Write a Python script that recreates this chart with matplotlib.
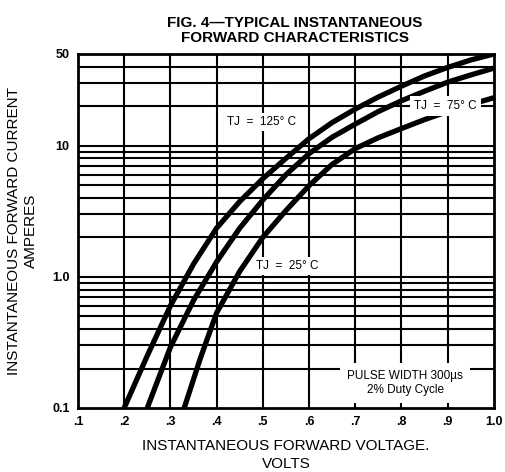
import numpy as np
import matplotlib.pyplot as plt

# forward voltage (V) vs current (A)
v_125 = [0.20, 0.25, 0.30, 0.35, 0.40, 0.45, 0.50, 0.55, 0.60, 0.65, 0.70, 0.75, 0.80, 0.85, 0.90, 0.95, 1.00]
i_125 = [0.10, 0.25, 0.60, 1.25, 2.35, 3.75, 5.6, 8.0, 11.3, 15.0, 19.0, 23.5, 28.4, 34.0, 39.5, 45.0, 50.0]

v_75 = [0.25, 0.30, 0.35, 0.40, 0.45, 0.50, 0.55, 0.60, 0.65, 0.70, 0.75, 0.80, 0.85, 0.90, 0.95, 1.00]
i_75 = [0.10, 0.29, 0.66, 1.30, 2.35, 3.85, 6.0, 8.7, 11.6, 14.6, 18.2, 22.0, 26.0, 30.5, 34.6, 39.0]

v_25 = [0.33, 0.365, 0.40, 0.45, 0.50, 0.55, 0.60, 0.65, 0.70, 0.75, 0.80, 0.85, 0.90, 0.95, 1.00]
i_25 = [0.10, 0.24, 0.53, 1.10, 2.0, 3.2, 4.95, 7.2, 9.5, 11.5, 13.5, 15.8, 18.2, 20.6, 23.2]

x_ticks = [0.1, 0.2, 0.3, 0.4, 0.5, 0.6, 0.7, 0.8, 0.9, 1.0]
x_labels = ['.1', '.2', '.3', '.4', '.5', '.6', '.7', '.8', '.9', '1.0']
y_ticks = [0.1, 1.0, 10, 50]
y_labels = ['0.1', '1.0', '10', '50']
y_grid = [0.2, 0.3, 0.4, 0.5, 0.6, 0.7, 0.8, 0.9, 1, 2, 3, 4, 5, 6, 7, 8, 9, 10, 20, 30, 40]

plt.rcParams['font.family'] = ['Liberation Sans', 'DejaVu Sans']

fig = plt.figure(figsize=(5.06, 4.72), dpi=100)
ax = fig.add_axes([0.154, 0.1356, 0.822, 0.75])
ax.set_yscale('log')
ax.set_xlim(0.1, 1.0)
ax.set_ylim(0.1, 50)

for x in x_ticks[1:-1]:
    ax.axvline(x, color='black', lw=1.5, zorder=1)
for y in y_grid:
    ax.axhline(y, color='black', lw=1.5, zorder=1)

for v, i in [(v_125, i_125), (v_75, i_75), (v_25, i_25)]:
    ax.plot(v, i, color='black', lw=3.8, solid_capstyle='butt',
            solid_joinstyle='round', zorder=3)

ax.set_xticks(x_ticks)
ax.set_xticklabels(x_labels, fontsize=9, fontweight='bold')
ax.set_yticks(y_ticks)
ax.set_yticklabels(y_labels, fontsize=9, fontweight='bold')
ax.yaxis.set_minor_locator(plt.NullLocator())
ax.tick_params(length=0, pad=6)
for s in ax.spines.values():
    s.set_linewidth(2)

ax.text(0.498, 15.2, 'TJ  =  125° C', fontsize=8.5, ha='center', va='center',
        bbox=dict(facecolor='white', edgecolor='none', pad=2), zorder=4)
ax.text(0.895, 20.0, 'TJ  =  75° C', fontsize=8.5, ha='center', va='center',
        bbox=dict(facecolor='white', edgecolor='none', pad=3), zorder=4)
ax.text(0.552, 1.21, 'TJ  =  25° C', fontsize=8.5, ha='center', va='center',
        bbox=dict(facecolor='white', edgecolor='none', pad=2), zorder=4)
ax.text(0.808, 0.155, 'PULSE WIDTH 300µs\n2% Duty Cycle', fontsize=8.5, ha='center',
        va='center', linespacing=1.3,
        bbox=dict(facecolor='white', edgecolor='none', pad=5), zorder=4)

fig.text(0.583, 0.966, 'FIG. 4—TYPICAL INSTANTANEOUS\nFORWARD CHARACTERISTICS',
         ha='center', va='top', fontsize=11, fontweight='bold', linespacing=1.1)
ax.set_xlabel('INSTANTANEOUS FORWARD VOLTAGE.\nVOLTS', fontsize=11, labelpad=8,
              linespacing=1.3)
ax.set_ylabel('INSTANTANEOUS FORWARD CURRENT\nAMPERES', fontsize=11, labelpad=10,
              linespacing=1.3)

fig.savefig('out.png', dpi=100)
